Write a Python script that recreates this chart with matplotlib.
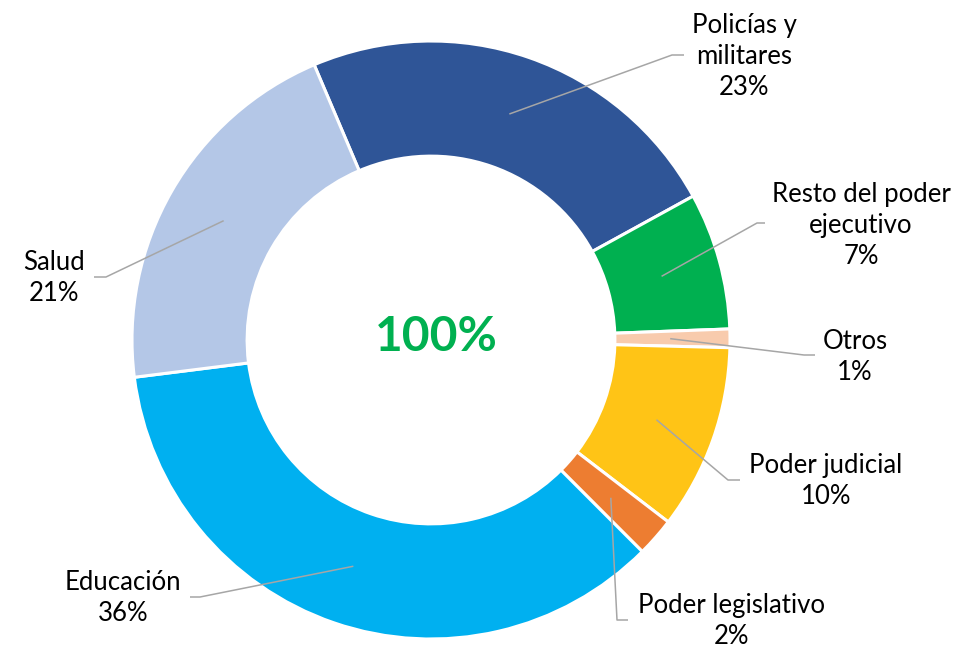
import numpy as np
import matplotlib.pyplot as plt

plt.rcParams['font.family'] = ['Lato', 'DejaVu Sans']

# datos (porcentaje del total)
categorias = ['Policías y\nmilitares', 'Resto del poder\nejecutivo', 'Otros',
              'Poder judicial', 'Poder legislativo', 'Educación', 'Salud']
valores = [23.4, 7.4, 1.0, 10.0, 2.1, 35.5, 20.6]
colores = ['#2F5597', '#00B050', '#F8CBAD', '#FFC416', '#ED7D31', '#00B0F0', '#B4C7E7']
total_txt = '100%'

W, H = 956, 649
cx, cy, R = 431, 340, 299   # centro y radio en pixeles


def px(x, y):
    return (x - cx) / R, (cy - y) / R


# posicion del texto, codo y final de la linea guia (pixeles)
pos_texto = [(744, 57), (861, 226), (855, 357), (826, 481), (731, 621), (123, 598), (54, 278)]
codo = [(672, 55), (757, 223), (804, 355), (728, 480), (617, 620), (200, 597), (106, 277)]
fin = [(684, 55), (765, 223), (815, 355), (740, 480), (628, 620), (190, 597), (94, 277)]

fig = plt.figure(figsize=(W / 100, H / 100), dpi=100)
ax = fig.add_axes([0, 0, 1, 1])

wedges, _ = ax.pie(valores, colors=colores, startangle=113, counterclock=False,
                   radius=1.0, wedgeprops=dict(width=0.385, edgecolor='white', linewidth=2.2))

for w, cat, v, t, c, f in zip(wedges, categorias, valores, pos_texto, codo, fin):
    ang = np.deg2rad((w.theta1 + w.theta2) / 2)
    x0, y0 = 0.8 * np.cos(ang), 0.8 * np.sin(ang)
    xc, yc = px(*c)
    xf, yf = px(*f)
    ax.plot([x0, xc, xf], [y0, yc, yf], color='#A6A6A6', lw=1.1, solid_capstyle='butt')
    tx, ty = px(*t)
    ax.text(tx, ty, f'{cat}\n{v:.0f}%', ha='center', va='center', fontsize=18.5,
            linespacing=1.3, color='black')

ax.text(*px(436, 337), total_txt, ha='center', va='center', fontsize=34.5,
        fontweight='bold', color='#00B050')

ax.set_xlim(-cx / R, (W - cx) / R)
ax.set_ylim((cy - H) / R, cy / R)
ax.set_aspect('equal')
ax.axis('off')

fig.savefig('out.png', dpi=100)
